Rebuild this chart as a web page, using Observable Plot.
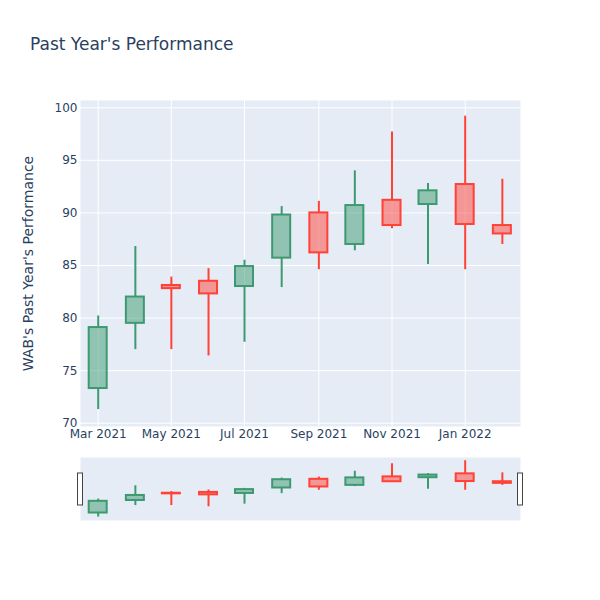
<!DOCTYPE html>
<html><head><meta charset="utf-8">
<script src="https://cdn.jsdelivr.net/npm/d3@7"></script>
<script src="https://cdn.jsdelivr.net/npm/@observablehq/plot@0.6"></script>
<style>
body{margin:0;background:#fff;}
#chart{position:relative;width:600px;height:600px;font-family:"DejaVu Sans",sans-serif;background:#fff;}
#title{position:absolute;left:30px;top:34px;font-size:17px;line-height:20px;color:#2a3f5f;white-space:nowrap;}
#main{position:absolute;left:0;top:0;}
#slider{position:absolute;left:0;top:450px;}
</style></head><body>
<div id="chart"><div id="title">Past Year's Performance</div><div id="main"></div><div id="slider"></div></div>
<script>
const months = ["2021-03-01","2021-04-01","2021-05-01","2021-06-01","2021-07-01","2021-08-01",
                "2021-09-01","2021-10-01","2021-11-01","2021-12-01","2022-01-01","2022-02-01"];
const openV  = [73.3, 79.5, 83.1, 83.5, 83.0, 85.7, 90.0, 87.0, 91.2, 90.8, 92.7, 88.8];
const highV  = [80.2, 86.8, 83.9, 84.7, 85.5, 90.6, 91.1, 94.0, 97.7, 92.8, 99.2, 93.2];
const lowV   = [71.3, 77.0, 77.0, 76.4, 77.7, 82.9, 84.6, 86.4, 88.5, 85.1, 84.6, 87.0];
const closeV = [79.1, 82.0, 82.8, 82.3, 84.9, 89.8, 86.2, 90.7, 88.8, 92.1, 88.9, 88.0];
const yTicks = [70, 75, 80, 85, 90, 95, 100];
const xTickLabels = ["2021-03-01","2021-05-01","2021-07-01","2021-09-01","2021-11-01","2022-01-01"];
const xDomainLabels = ["2021-02-14T06:00","2022-02-16T03:00"];
const yLabel = "WAB's Past Year's Performance";

const UP = "#3D9970", DOWN = "#FF4136";
const DAY = 864e5, HALF = 7.5 * DAY;
const rows = months.map((m, i) => {
  const date = new Date(m);
  const o = openV[i], c = closeV[i];
  return {
    date, x1: new Date(+date - HALF), x2: new Date(+date + HALF),
    open: o, close: c, high: highV[i], low: lowV[i],
    top: Math.max(o, c), bottom: Math.min(o, c),
    color: c >= o ? UP : DOWN
  };
});
const xTicks = xTickLabels.map(d => new Date(d));
const xDomain = xDomainLabels.map(d => new Date(d + "Z"));

function candles(sw) {
  return [
    Plot.ruleX(rows, {x: "date", y1: "top", y2: "high", stroke: "color", strokeWidth: sw}),
    Plot.ruleX(rows, {x: "date", y1: "low", y2: "bottom", stroke: "color", strokeWidth: sw}),
    Plot.rect(rows, {x1: "x1", x2: "x2", y1: "bottom", y2: "top", fill: "color", fillOpacity: 0.5,
                     stroke: "color", strokeWidth: sw})
  ];
}

const main = Plot.plot({
  width: 600, height: 450,
  marginLeft: 80, marginRight: 80, marginTop: 100, marginBottom: 24,
  style: {fontFamily: "'DejaVu Sans', sans-serif", fontSize: "12px", color: "#2a3f5f", background: "transparent"},
  x: {type: "utc", domain: xDomain},
  y: {domain: [69.69, 100.69]},
  color: {type: "identity"},
  marks: [
    Plot.frame({fill: "#E5ECF6", stroke: null}),
    Plot.gridY(yTicks, {stroke: "#fff", strokeOpacity: 1, strokeWidth: 1}),
    Plot.gridX(xTicks, {stroke: "#fff", strokeOpacity: 1, strokeWidth: 1}),
    Plot.axisY(yTicks, {tickSize: 0, tickPadding: 3, label: null, fontSize: 12, fill: "#2a3f5f"}),
    Plot.axisX(xTicks, {tickSize: 0, tickPadding: 3, label: null, fontSize: 12, fill: "#2a3f5f",
                        tickFormat: d3.utcFormat("%b %Y")}),
    ...candles(2),
    Plot.text([yLabel], {frameAnchor: "left", textAnchor: "middle", rotate: -90, dx: -52,
                         fontSize: 14, fill: "#2a3f5f"})
  ]
});
document.getElementById("main").appendChild(main);

const slider = Plot.plot({
  width: 600, height: 150,
  marginLeft: 80, marginRight: 80, marginTop: 7, marginBottom: 80,
  style: {fontFamily: "'DejaVu Sans', sans-serif", background: "transparent"},
  x: {type: "utc", domain: xDomain, axis: null},
  y: {domain: [69.6, 100.8], axis: null},
  color: {type: "identity"},
  marks: [
    Plot.frame({fill: "#E5ECF6", stroke: null}),
    ...candles(2),
    Plot.rect(xDomain, {x1: d => d, x2: d => d, insetLeft: -2.5, insetRight: -2.5,
                        insetTop: 16, insetBottom: 15, fill: "#fff", stroke: "#444", strokeWidth: 1})
  ]
});
document.getElementById("slider").appendChild(slider);
</script>
</body></html>
